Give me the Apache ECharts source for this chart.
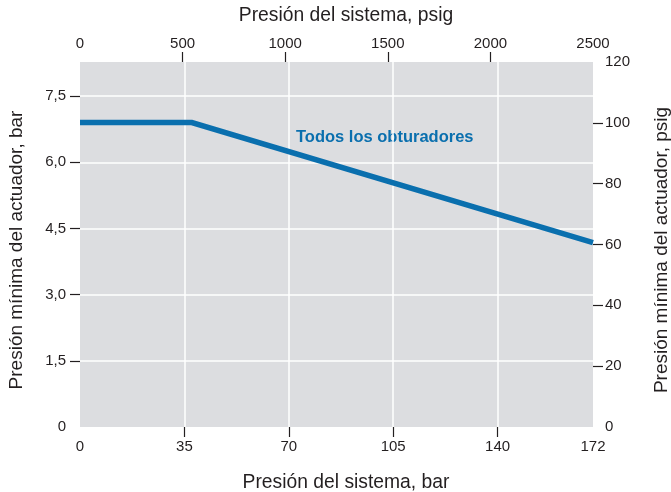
<!DOCTYPE html>
<html>
<head>
<meta charset="utf-8">
<script src="https://cdn.jsdelivr.net/npm/echarts@6/dist/echarts.min.js"></script>
<style>
html,body{margin:0;padding:0;background:#fff;}
#c{width:671px;height:492px;}
</style>
</head>
<body>
<div id="c"></div>
<script>
// Data (system pressure in bar, minimum actuator pressure in bar)
const seriesName = 'Todos los obturadores';
const systemBar = [0, 37.5, 172];
const actuatorBar = [6.9, 6.9, 4.18];
const bottomTicks = [35, 70, 105, 140];
const bottomLabels = [0, 35, 70, 105, 140, 172];
const topTicks = [500, 1000, 1500, 2000];
const topLabels = [0, 500, 1000, 1500, 2000, 2500];
const leftTicks = [1.5, 3, 4.5, 6, 7.5];
const leftLabels = [0, 1.5, 3, 4.5, 6, 7.5];
const rightTicks = [20, 40, 60, 80, 100];
const rightLabels = [0, 20, 40, 60, 80, 100, 120];

const FONT = 'Liberation Sans, Arial, Helvetica, sans-serif';
const TXT = '#231f20';
const BLUE = '#0a6fae';

const chart = echarts.init(document.getElementById('c'), null, {renderer: 'canvas'});
const lblStyle = {color: TXT, fontFamily: FONT, fontSize: 15};
const tickStyle = {show: true, inside: false, length: 10, lineStyle: {color: TXT, width: 1.2}};
const nameH = {color: TXT, fontFamily: FONT, fontSize: 19.3, padding: [0, 0, 0, 19]};
const nameV = {color: TXT, fontFamily: FONT, fontSize: 19, padding: [0, 11, 0, 0]};
const noLine = {show: false, onZero: false};

chart.setOption({
  animation: false,
  grid: {left: 80, right: 78, top: 62, bottom: 65, containLabel: false, outerBoundsMode: 'none',
         show: true, backgroundColor: '#dcdde0', borderWidth: 0},
  xAxis: [{
    type: 'value', position: 'bottom', min: 0, max: 172,
    name: 'Presión del sistema, bar', nameLocation: 'middle', nameGap: 46, nameTextStyle: nameH,
    axisLine: noLine,
    axisTick: Object.assign({}, tickStyle, {customValues: bottomTicks}),
    axisLabel: Object.assign({}, lblStyle, {customValues: bottomLabels, margin: 12, formatter: v => String(v)}),
    splitLine: {show: true, lineStyle: {color: '#ffffff', width: 1.5}}
  }, {
    type: 'value', position: 'top', min: 0, max: 2500,
    name: 'Presión del sistema, psig', nameLocation: 'middle', nameGap: 37, nameTextStyle: nameH,
    axisLine: noLine,
    axisTick: Object.assign({}, tickStyle, {customValues: topTicks}),
    axisLabel: Object.assign({}, lblStyle, {customValues: topLabels, margin: 11, formatter: v => String(v)}),
    splitLine: {show: false}
  }],
  yAxis: [{
    type: 'value', position: 'left', min: 0, max: 8.274,
    name: 'Presión mínima del actuador, bar', nameLocation: 'middle', nameGap: 54, nameTextStyle: nameV,
    axisLine: noLine,
    axisTick: Object.assign({}, tickStyle, {customValues: leftTicks}),
    axisLabel: Object.assign({}, lblStyle, {customValues: leftLabels, margin: 14,
      formatter: v => v === 0 ? '0' : v.toFixed(1).replace('.', ',')}),
    splitLine: {show: true, lineStyle: {color: '#ffffff', width: 1.5}}
  }, {
    type: 'value', position: 'right', min: 0, max: 120,
    name: 'Presión mínima del actuador, psig', nameLocation: 'middle', nameGap: 59, nameTextStyle: nameV,
    nameRotate: 90,
    axisLine: noLine,
    axisTick: Object.assign({}, tickStyle, {customValues: rightTicks}),
    axisLabel: Object.assign({}, lblStyle, {customValues: rightLabels, margin: 12, formatter: v => String(v)}),
    splitLine: {show: false}
  }],
  graphic: [{
    type: 'text', left: 296, top: 129,
    style: {text: seriesName, fill: BLUE, font: 'bold 16.5px ' + FONT}
  }],
  series: [{
    name: seriesName, type: 'line', xAxisIndex: 0, yAxisIndex: 0,
    data: systemBar.map((x, i) => [x, actuatorBar[i]]),
    showSymbol: false, symbol: 'none',
    lineStyle: {color: BLUE, width: 5.5, cap: 'butt', join: 'miter'}
  }]
});
</script>
</body>
</html>
